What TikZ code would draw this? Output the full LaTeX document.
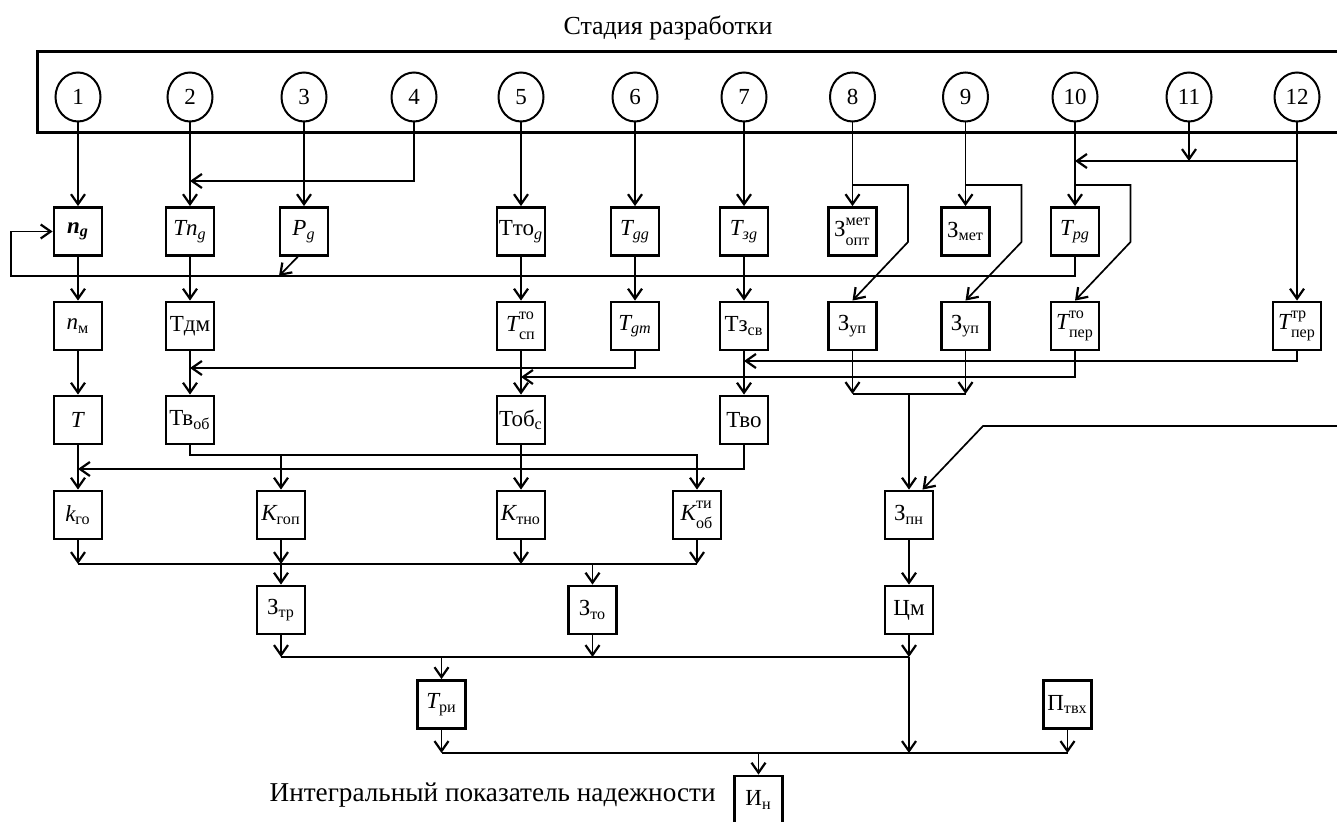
\documentclass[tikz,border=0pt]{standalone}
\usepackage{fontspec}
\usepackage{amsmath}
\setmainfont{Liberation Serif}
\usetikzlibrary{arrows.meta,shapes.geometric}
\newcommand\fs{\fontsize{11.5}{13}\selectfont}
\newcommand\ft{\fontsize{13}{15}\selectfont}
\newcommand\fc{\fontsize{13.6}{15}\selectfont}
\newcommand\supsub[2]{^{\raisebox{1.2pt}{$\scriptstyle\text{#1}$}}_{\raisebox{-1.2pt}{$\scriptstyle\text{#2}$}}}
\begin{document}
\begin{tikzpicture}[x=0.5pt,y=-0.5pt,
 bx/.style={draw, line width=1.4pt, minimum width=24pt, minimum height=24pt, inner sep=0pt, font=\fs},
 cc/.style={draw, ellipse, line width=1pt, minimum width=22.5pt, minimum height=24.5pt, inner sep=0pt, font=\fs},
 ln/.style={line width=0.85pt},
 ar/.style={ln, -{Straight Barb[length=5pt,width=7pt,line width=1.1pt]}},
 lab/.style={inner sep=0pt}]
\useasboundingbox (0,0) rectangle (1337,822);
\node[lab, font=\ft] (title) at (668,28) {Стадия разработки};
\draw[line width=1.5pt] (37,52) rectangle (1350,133);
% circles
\foreach \n/\x in {1/78,2/190,3/304,4/414,5/521,6/635,7/744,8/852.5,9/965.5,10/1075,11/1189,12/1297}
  \node[cc] (c\n) at (\x,97) {\n};
% row 1
\node[bx] (ng) at (78,231.5) {$\textbf{\textit{n}}_{\textbf{\textit{g}}}$};
\node[bx] (Tng) at (190,231.5) {$\textit{Tn}_{\textit{g}}$};
\node[bx] (Pg) at (304,231.5) {$\textit{P}_{\textit{g}}$};
\node[bx] (Ttog) at (521,231.5) {$\text{Тто}_{\textit{g}}$};
\node[bx] (Tgg) at (635,231.5) {$\textit{T}_{\textit{gg}}$};
\node[bx] (Tzg) at (744,231.5) {$\textit{T}_{\textit{зg}}$};
\node[bx] (Zmo) at (852.5,231.5) {$\text{З}\supsub{мет}{опт}$};
\node[bx] (Zmet) at (965.5,231.5) {$\text{З}_{\text{мет}}$};
\node[bx] (Tpg) at (1075,231.5) {$\textit{T}_{\textit{pg}}$};
% row 2
\node[bx] (nm) at (78,326) {$\textit{n}_{\text{м}}$};
\node[bx] (Tdm) at (190,326) {Тдм};
\node[bx] (Tsp) at (521,326) {$\textit{T}\supsub{то}{сп}$};
\node[bx] (Tgm) at (635,326) {$\textit{T}_{\textit{gm}}$};
\node[bx] (Tzsv) at (744,326) {$\text{Тз}_{\text{св}}$};
\node[bx] (Zup1) at (852.5,326) {$\text{З}_{\text{уп}}$};
\node[bx] (Zup2) at (965.5,326) {$\text{З}_{\text{уп}}$};
\node[bx] (Tpto) at (1075,326) {$\textit{T}\supsub{то}{пер}$};
\node[bx] (Tptr) at (1297,326) {$\textit{T}\supsub{тр}{пер}$};
% row 3
\node[bx] (T) at (78,420) {\textit{T}};
\node[bx] (Tvob) at (190,420) {$\text{Тв}_{\text{об}}$};
\node[bx] (Tobs) at (521,420) {$\text{Тоб}_{\text{с}}$};
\node[bx] (Tvo) at (744,420) {Тво};
% row 4
\node[bx] (kgo) at (78,515) {$\textit{k}_{\text{го}}$};
\node[bx] (Kgop) at (281,515) {$\textit{K}_{\text{гоп}}$};
\node[bx] (Ktno) at (521,515) {$\textit{K}_{\text{тно}}$};
\node[bx] (Ktiob) at (697,515) {$\textit{K}\supsub{ти}{об}$};
\node[bx] (Zpn) at (909,515) {$\text{З}_{\text{пн}}$};
% row 5
\node[bx] (Ztr) at (281,610) {$\text{З}_{\text{тр}}$};
\node[bx] (Zto) at (592.5,610) {$\text{З}_{\text{то}}$};
\node[bx] (Cm) at (909,610) {Цм};
% row 6
\node[bx] (Tri) at (441.5,704.5) {$\textit{T}_{\text{ри}}$};
\node[bx] (Ptvh) at (1067.5,704.5) {$\text{П}_{\text{твх}}$};
% row 7
\node[bx] (In) at (758.5,800) {$\text{И}_{\text{н}}$};
\node[lab, font=\fc, anchor=east] (cap) at (716,795) {Интегральный показатель надежности};
% circles to row 1
\draw[ar] (c1) -- (ng);
\draw[ar] (c2) -- (Tng);
\draw[ar] (c3) -- (Pg);
\draw[ar] (c4.south) |- (c2 |- 0,181);
\draw[ar] (c5) -- (Ttog);
\draw[ar] (c6) -- (Tgg);
\draw[ar] (c7) -- (Tzg);
\draw[ar] (c8) -- (Zmo);
\draw[ar] (c9) -- (Zmet);
\draw[ar] (c10) -- (Tpg);
\draw[ar] (c11.south) -- (c11 |- 0,161);
\draw[ar] (c12 |- 0,161) -- (c10 |- 0,161);
\draw[ar] (c12) -- (Tptr);
% branches to row 2
\draw[ar] (c8 |- 0,185) -- (908,185) -- (908,242) -- (Zup1.north);
\draw[ar] (c9 |- 0,185) -- (1021.5,185) -- (1021.5,242) -- (Zup2.north);
\draw[ar] (c10 |- 0,185) -- (1130.5,185) -- (1130.5,242) -- (Tpto.north);
% loop
\draw[ar] (Tpg.south) |- (11,276) |- (ng.west);
\draw[ar] (Pg.-104) -- (279,276);
% row 1 to row 2
\draw[ar] (ng) -- (nm);
\draw[ar] (Tng) -- (Tdm);
\draw[ar] (Ttog) -- (Tsp);
\draw[ar] (Tgg) -- (Tgm);
\draw[ar] (Tzg) -- (Tzsv);
% row 2 to row 3
\draw[ar] (nm) -- (T);
\draw[ar] (Tdm) -- (Tvob);
\draw[ar] (Tsp) -- (Tobs);
\draw[ar] (Tzsv) -- (Tvo);
\draw[ar] (Tgm.south) |- (Tdm |- 0,368);
\draw[ar] (Tptr.south) |- (Tzsv |- 0,361);
\draw[ar] (Tpto.south) |- (Tsp |- 0,377);
\draw[ar] (Zup1.south) -- (Zup1 |- 0,394);
\draw[ar] (Zup2.south) -- (Zup2 |- 0,394);
\draw[ln] (Zup1 |- 0,394) -- (Zup2 |- 0,394);
\draw[ar] (Zpn |- 0,394) -- (Zpn.north);
\coordinate (rin) at (1340,426);
\draw[ar] (rin) -- (983,426) -- (Zpn.62);
% row 3 to row 4
\draw[ar] (T) -- (kgo);
\draw[ar] (Tobs) -- (Ktno);
\draw[ar] (Tvo.south) |- (kgo |- 0,469);
\draw[ar] (Tvob.south) |- (Ktiob |- 0,455) -- (Ktiob.north);
\draw[ar] (Kgop |- 0,455) -- (Kgop.north);
% row 4 to row 5
\draw[ln] (kgo |- 0,564) -- (Ktiob |- 0,564);
\draw[ar] (kgo.south) -- (kgo |- 0,564);
\draw[ar] (Kgop.south) -- (Kgop |- 0,564);
\draw[ar] (Ktno.south) -- (Ktno |- 0,564);
\draw[ar] (Ktiob.south) -- (Ktiob |- 0,564);
\draw[ar] (Kgop |- 0,564) -- (Ztr.north);
\draw[ar] (Zto |- 0,564) -- (Zto.north);
\draw[ar] (Zpn) -- (Cm);
% row 5 to row 6
\draw[ln] (Ztr |- 0,657) -- (Cm |- 0,657);
\draw[ar] (Ztr.south) -- (Ztr |- 0,657);
\draw[ar] (Zto.south) -- (Zto |- 0,657);
\draw[ar] (Cm.south) -- (Cm |- 0,657);
\draw[ar] (Tri |- 0,657) -- (Tri.north);
\draw[ar] (Cm |- 0,657) -- (Cm |- 0,753);
% row 6 to row 7
\draw[ln] (Tri |- 0,753) -- (Ptvh |- 0,753);
\draw[ar] (Tri.south) -- (Tri |- 0,753);
\draw[ar] (Ptvh.south) -- (Ptvh |- 0,753);
\draw[ar] (In |- 0,753) -- (In.north);
\end{tikzpicture}
\end{document}
